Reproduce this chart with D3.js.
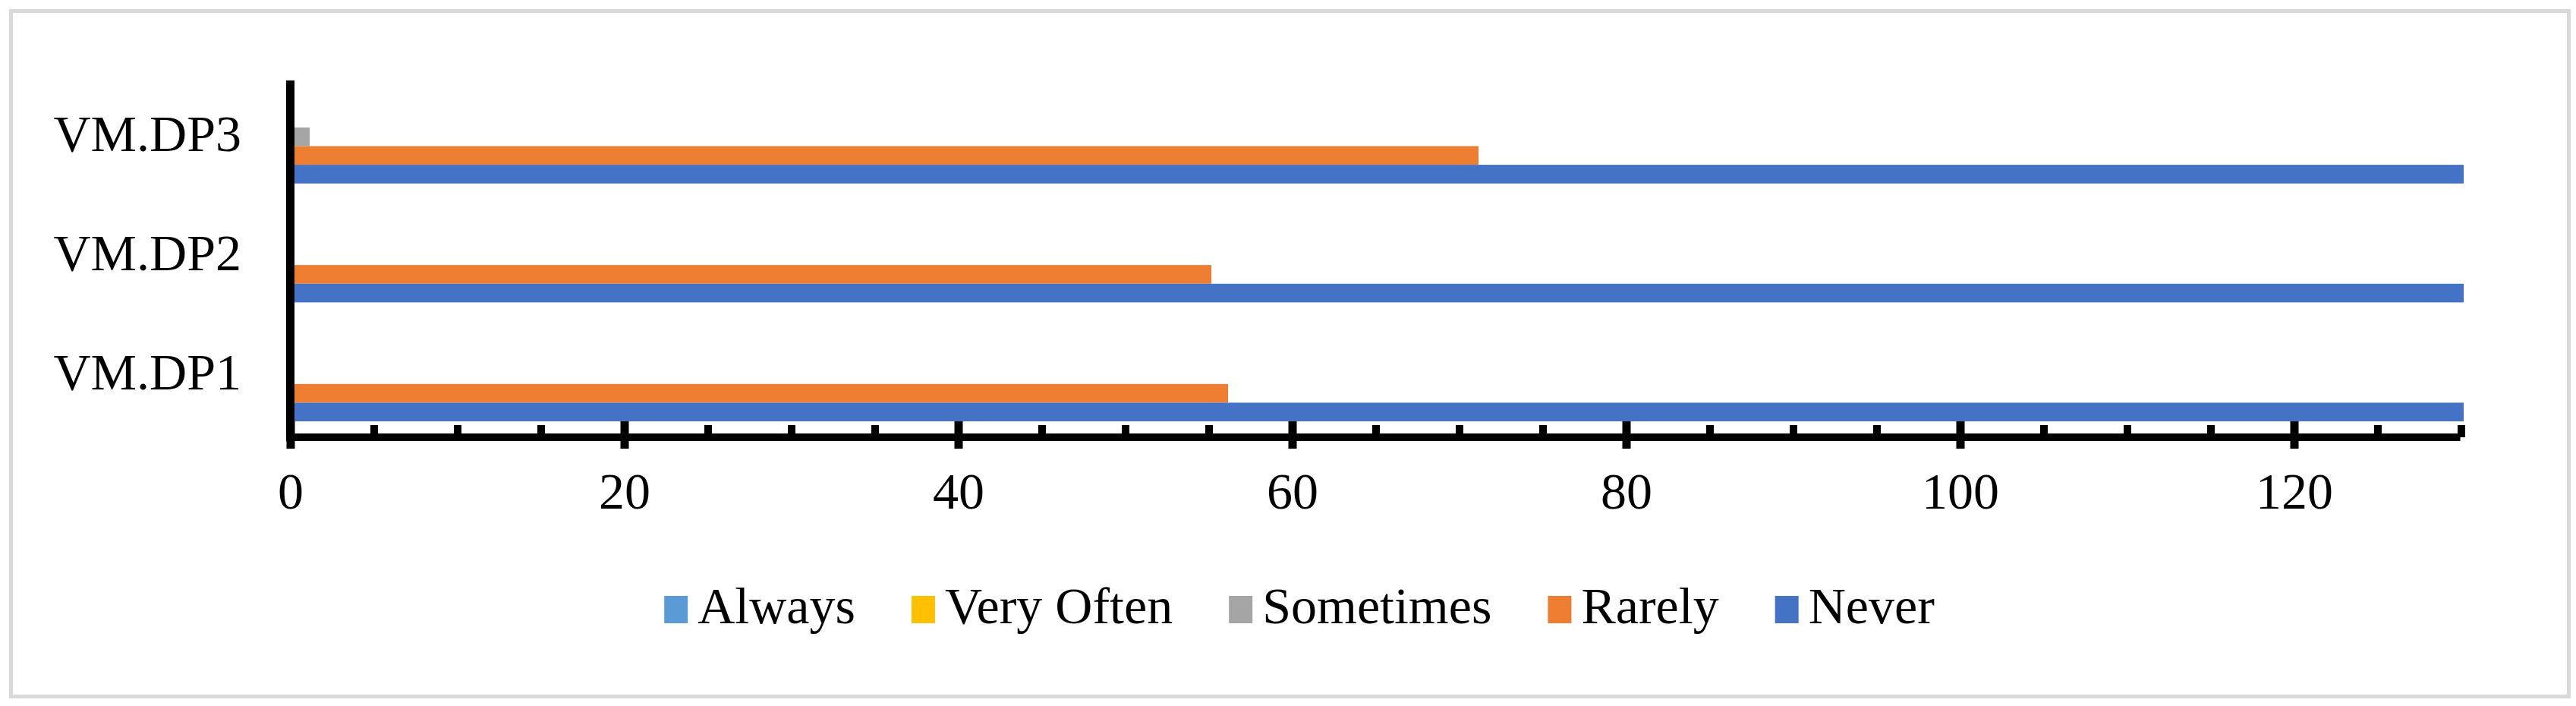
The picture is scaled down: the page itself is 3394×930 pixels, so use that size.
<!DOCTYPE html>
<html>
<head>
<meta charset="utf-8">
<script src="https://cdn.jsdelivr.net/npm/d3@7"></script>
<style>
  html, body { margin: 0; padding: 0; background: #ffffff; }
  svg { display: block; }
  text { font-family: "Liberation Serif", "Times New Roman", serif; fill: #000; }
</style>
</head>
<body>
<svg id="chart" width="3394" height="930"></svg>
<script>
// ---- data ----
const categories = ["VM.DP3", "VM.DP2", "VM.DP1"];
const seriesNames = ["Always", "Very Often", "Sometimes", "Rarely", "Never"];
const seriesColors = ["#5B9BD5", "#FFC000", "#A5A5A5", "#ED7D31", "#4472C4"];
const alwaysValues    = [0, 0, 0];
const veryOftenValues = [0, 0, 0];
const sometimesValues = [1, 0, 0];
const rarelyValues    = [71, 55, 56];
const neverValues     = [130, 130, 130];
const majorTicks = [0, 20, 40, 60, 80, 100, 120];
const minorTicks = [5, 10, 15, 25, 30, 35, 45, 50, 55, 65, 70, 75, 85, 90, 95, 105, 110, 115, 125, 130];
const xMax = 130;

const seriesValues = [alwaysValues, veryOftenValues, sometimesValues, rarelyValues, neverValues];

// ---- layout ----
const plot = { left: 382.5, right: 3242.5, top: 106, bottom: 576 };
const fontSize = 68;
const serif = "'Liberation Serif', 'Times New Roman', serif";

const svg = d3.select("#chart");

// border
svg.append("rect")
  .attr("x", 14.5).attr("y", 14.5)
  .attr("width", 3370).attr("height", 903)
  .attr("fill", "#fff")
  .attr("stroke", "#D9D9D9").attr("stroke-width", 5);

const x = d3.scaleLinear().domain([0, xMax]).range([plot.left, plot.right]).clamp(true);
const y0 = d3.scaleBand().domain(categories).range([plot.top, plot.bottom]).padding(0);
const y1 = d3.scaleBand().domain(seriesNames).range([12.7, 135.7]).padding(0);

// bars
const barData = [];
categories.forEach((c, ci) => {
  seriesNames.forEach((s, si) => {
    barData.push({ cat: c, series: s, value: seriesValues[si][ci], color: seriesColors[si] });
  });
});

svg.append("g").selectAll("rect")
  .data(barData.filter(d => d.value > 0))
  .join("rect")
  .attr("x", x(0))
  .attr("y", d => y0(d.cat) + y1(d.series))
  .attr("width", d => x(d.value) - x(0) + 3.5)
  .attr("height", y1.bandwidth())
  .attr("fill", d => d.color);

// x axis: minor ticks (upward)
const minorAxis = d3.axisBottom(x).tickValues(minorTicks).tickSizeInner(-16).tickSizeOuter(0).tickFormat("");
const gMinor = svg.append("g").attr("transform", `translate(0,${plot.bottom})`).call(minorAxis);
gMinor.select(".domain").remove();
gMinor.selectAll(".tick line").attr("stroke", "#000").attr("stroke-width", 10);

// x axis: major ticks (crossing) + labels
const majorAxis = d3.axisBottom(x).tickValues(majorTicks).tickSizeInner(15).tickSizeOuter(0).tickFormat(d3.format("d"));
const gMajor = svg.append("g").attr("transform", `translate(0,${plot.bottom})`).call(majorAxis);
gMajor.select(".domain")
  .attr("d", `M${plot.left - 5.5},0H${plot.right - 1}`)
  .attr("stroke", "#000").attr("stroke-width", 10);
gMajor.selectAll(".tick line").attr("y1", -21).attr("stroke", "#000").attr("stroke-width", 11);
gMajor.selectAll(".tick text")
  .attr("y", 94).attr("dy", 0)
  .style("font-family", serif)
  .style("font-size", fontSize + "px")
  .attr("fill", "#000");

// y axis
const yAxis = d3.axisLeft(y0).tickSize(0).tickFormat("");
const gY = svg.append("g").attr("transform", `translate(${plot.left},0)`).call(yAxis);
gY.select(".domain")
  .attr("d", `M0,${plot.top}V${plot.bottom + 5}`)
  .attr("stroke", "#000").attr("stroke-width", 11);

// category labels
svg.append("g").selectAll("text")
  .data(categories)
  .join("text")
  .attr("x", 318)
  .attr("y", d => y0(d) + y0.bandwidth() / 2 + 15)
  .attr("text-anchor", "end")
  .style("font-family", serif)
  .style("font-size", fontSize + "px")
  .text(d => d);

// legend
const legend = svg.append("g");
const swW = 31, swH = 36, swGap = 13, itemGap = 74;
const items = legend.selectAll("g.item")
  .data(seriesNames.map((s, i) => ({ name: s, color: seriesColors[i] })))
  .join("g").attr("class", "item");
items.append("rect")
  .attr("width", swW).attr("height", swH)
  .attr("y", 785)
  .attr("fill", d => d.color);
items.append("text")
  .attr("x", swW + swGap)
  .attr("y", 821)
  .style("font-family", serif)
  .style("font-size", fontSize + "px")
  .text(d => d.name);
let widths = [];
items.each(function() { widths.push(d3.select(this).select("text").node().getComputedTextLength()); });
const totalW = d3.sum(widths.map(w => swW + swGap + w)) + itemGap * (widths.length - 1);
let cx = 1712 - totalW / 2;
items.attr("transform", (d, i) => {
  const t = `translate(${cx},0)`;
  cx += swW + swGap + widths[i] + itemGap;
  return t;
});
</script>
</body>
</html>
